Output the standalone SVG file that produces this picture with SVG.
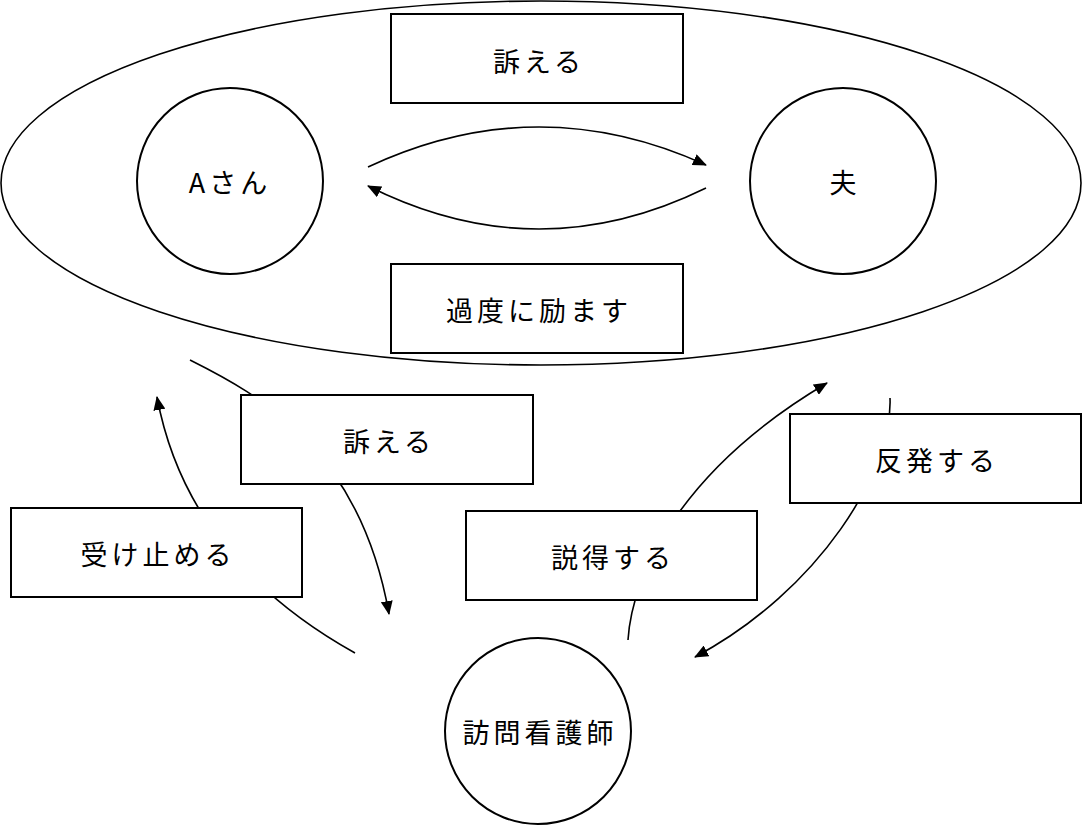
<svg xmlns="http://www.w3.org/2000/svg" width="1083" height="825" viewBox="0 0 1083 825">
<style>
.shape{fill:#fff;stroke:#000;stroke-width:2}
.conn{fill:none;stroke:#000;stroke-width:1.6}
.lbl{font-family:"Noto Sans CJK JP","Noto Sans",sans-serif;font-size:27px;letter-spacing:4px;text-anchor:middle;dominant-baseline:central;fill:#000}
</style>
<defs>
<marker id="arr" viewBox="0 0 14 12" refX="13" refY="6" markerWidth="14" markerHeight="12" markerUnits="userSpaceOnUse" orient="auto">
<path d="M0,0 L14,6 L0,12 Z" fill="#000"/>
</marker>
</defs>
<rect width="1083" height="825" fill="#fff"/>
<g id="family">
<ellipse cx="541" cy="183" rx="540" ry="182" fill="none" stroke="#000" stroke-width="1.6"/>
</g>
<g id="connectors">
<path class="conn" d="M368,167 Q537,88 706,165" marker-end="url(#arr)"/>
<path class="conn" d="M706,188 Q537,271 368,186" marker-end="url(#arr)"/>
<path class="conn" d="M190,360 C260,395 360,450 389,614" marker-end="url(#arr)"/>
<path class="conn" d="M355,653 C260,600 180,520 157,397" marker-end="url(#arr)"/>
<path class="conn" d="M628,640 C632,575 680,470 827,383" marker-end="url(#arr)"/>
<path class="conn" d="M890,398 C893,470 820,590 695,657" marker-end="url(#arr)"/>
</g>
<g id="box-top">
<rect class="shape" x="391" y="14" width="292" height="89"/>
<text class="lbl" x="539" y="60">訴える</text>
</g>
<g id="node-a">
<circle class="shape" cx="230" cy="181" r="93"/>
<text class="lbl" x="230" y="181">Aさん</text>
</g>
<g id="node-husband">
<circle class="shape" cx="843" cy="181" r="93"/>
<text class="lbl" x="845" y="181">夫</text>
</g>
<g id="box-encourage">
<rect class="shape" x="391" y="264" width="292" height="89"/>
<text class="lbl" x="539" y="309">過度に励ます</text>
</g>
<g id="box-appeal">
<rect class="shape" x="241" y="395" width="292" height="89"/>
<text class="lbl" x="389" y="440">訴える</text>
</g>
<g id="box-accept">
<rect class="shape" x="11" y="508" width="291" height="89"/>
<text class="lbl" x="158" y="553">受け止める</text>
</g>
<g id="box-persuade">
<rect class="shape" x="466" y="511" width="291" height="89"/>
<text class="lbl" x="613" y="556">説得する</text>
</g>
<g id="box-oppose">
<rect class="shape" x="790" y="414" width="291" height="89"/>
<text class="lbl" x="937" y="459">反発する</text>
</g>
<g id="node-nurse">
<circle class="shape" cx="538" cy="731" r="93"/>
<text class="lbl" x="540" y="731">訪問看護師</text>
</g>
</svg>
